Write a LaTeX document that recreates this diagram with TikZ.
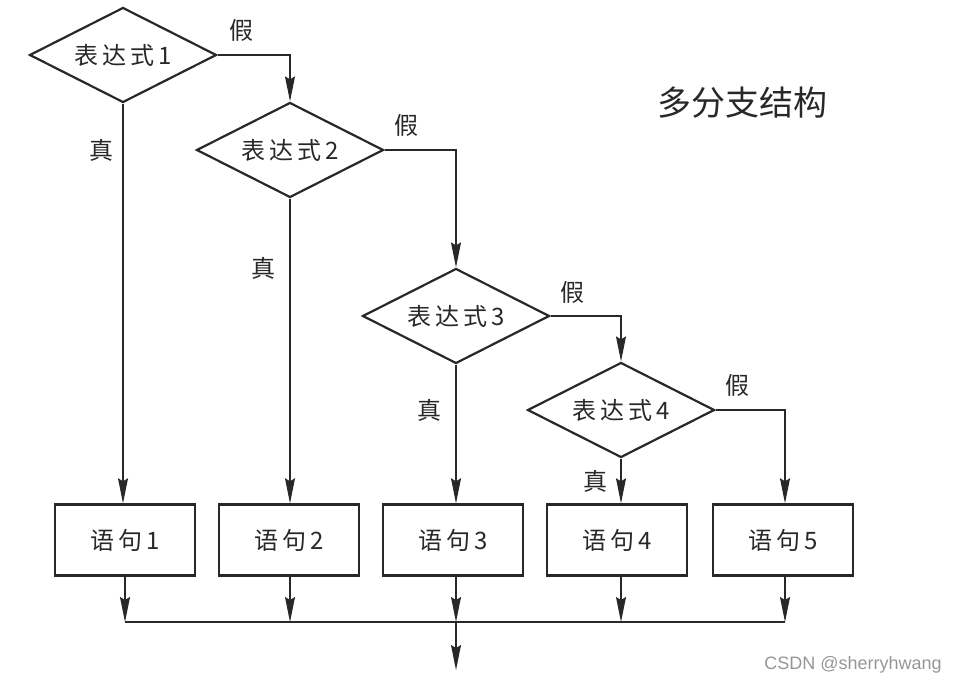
\documentclass[tikz,border=0pt]{standalone}
\usepackage{fontspec}
\newfontfamily\cjk[LetterSpace=16]{Noto Sans CJK SC}
\newfontfamily\cjktitle{Noto Sans CJK SC}
\setsansfont{Liberation Sans}
\definecolor{inkgray}{RGB}{40,40,40}
\definecolor{markgray}{RGB}{150,150,150}
\newcommand{\flowfont}{\cjk\fontsize{24}{27}\selectfont}
\usetikzlibrary{arrows.meta,shapes.geometric}

\begin{document}
\begin{tikzpicture}[x=1pt, y=1pt,
  cond/.style={diamond, draw=inkgray, line width=2.2pt, aspect=2, inner sep=0pt,
               minimum width=187pt, minimum height=95pt, font=\flowfont, text=inkgray},
  stmt/.style={rectangle, draw=inkgray, line width=2.4pt, minimum width=140pt,
               minimum height=71pt, font=\flowfont, text=inkgray},
  lbl/.style={font=\flowfont, text=inkgray},
  flow/.style={draw=inkgray, line width=1.2pt},
  arr/.style={flow, -{Stealth[length=25pt, width=10pt, inset=3pt]}}]

\useasboundingbox (0,0) rectangle (958,-685);

% Conditions
\node[cond] (d1) at (123,-55) {表达式1};
\node[cond] (d2) at (290,-150) {表达式2};
\node[cond] (d3) at (456,-316) {表达式3};
\node[cond] (d4) at (621,-410) {表达式4};

% Statements
\node[stmt] (s1) at (125,-540) {语句1};
\node[stmt] (s2) at (289,-540) {语句2};
\node[stmt] (s3) at (453,-540) {语句3};
\node[stmt] (s4) at (617,-540) {语句4};
\node[stmt] (s5) at (783,-540) {语句5};

% False branches
\draw[arr] (d1.east) -| (d2.north);
\node[lbl] (f1) at (241,-30) {假};
\draw[arr] (d2.east) -| (d3.north);
\node[lbl] (f2) at (406,-125) {假};
\draw[arr] (d3.east) -| (d4.north);
\node[lbl] (f3) at (572,-292) {假};
\draw[arr] (d4.east) -| (785,0 |- s5.north);
\node[lbl] (f4) at (737,-385) {假};

% True branches
\draw[arr] (d1.south) -- (d1.south |- s1.north);
\node[lbl] (t1) at (101,-150) {真};
\draw[arr] (d2.south) -- (d2.south |- s2.north);
\node[lbl] (t2) at (263,-268) {真};
\draw[arr] (d3.south) -- (d3.south |- s3.north);
\node[lbl] (t3) at (429,-410) {真};
\draw[arr] (d4.south) -- (d4.south |- s4.north);
\node[lbl] (t4) at (595,-481) {真};

% Merge
\coordinate (join) at (456,-622);
\coordinate (exit) at (456,-670);
\foreach \s/\x in {s1/125,s2/290,s3/456,s4/621,s5/785}
  \draw[arr] (\x,0 |- \s.south) -- (\x,0 |- join);
\draw[flow] (125,0 |- join) -- (785,0 |- join);
\draw[arr] (join) -- (exit);

% Title and mark
\node[font=\cjktitle\fontsize{34}{38}\selectfont, text=inkgray] (title) at (742,-103) {多分支结构};
\node[font=\sffamily\fontsize{18}{20}\selectfont, text=markgray] (mark) at (853,-665) {CSDN @sherryhwang};

\end{tikzpicture}
\end{document}
